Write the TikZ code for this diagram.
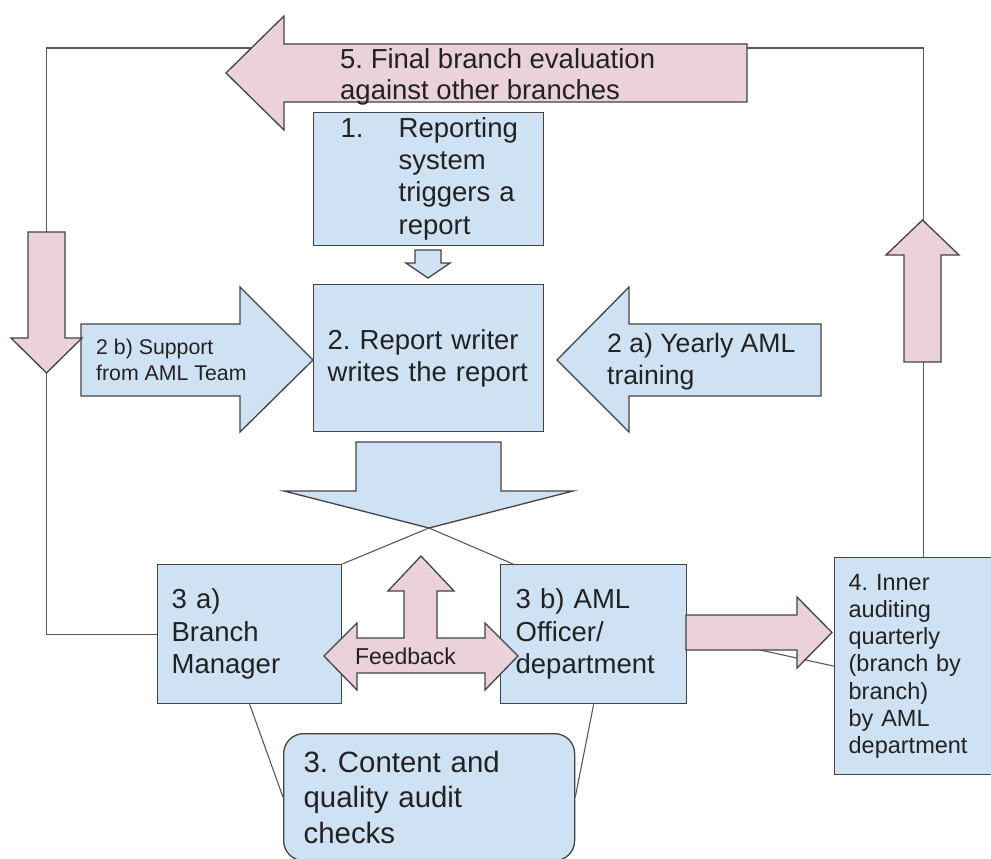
\documentclass[tikz,border=0pt]{standalone}
\usepackage{fontspec}
\setmainfont{Liberation Sans}
\usepackage{xcolor}
\usetikzlibrary{backgrounds}
\definecolor{boxblue}{HTML}{CFE2F3}
\definecolor{flowpink}{HTML}{EAD1DC}
\definecolor{edgegray}{HTML}{434343}
\definecolor{linegray}{HTML}{595959}
\definecolor{txtgray}{HTML}{222222}
\frenchspacing

\begin{document}
\begin{tikzpicture}[x=1pt, y=-1pt,
		stepbox/.style={draw=edgegray, fill=boxblue, line width=1.3pt, anchor=north west, align=left, text=txtgray, inner ysep=0pt, inner xsep=14pt, font=\fontsize{27.5}{32.3}\selectfont},
		bluearrow/.style={draw=edgegray, fill=boxblue, line width=1.3pt},
		pinkarrow/.style={draw=edgegray, fill=flowpink, line width=1.3pt},
		link/.style={draw=linegray, line width=1.1pt},
		arrowtext/.style={anchor=west, align=left, inner sep=0pt, text=txtgray}
	]
	\useasboundingbox (0,0) rectangle (991,859);
	\clip (0,0) rectangle (991,859);

	% Step 1
	\node[stepbox, minimum width=230pt, minimum height=133pt, text width=202pt] (report) at (313,112) {\begin{tabular}{@{\hspace{13pt}}p{58pt}@{}l@{}}1. & Reporting\\ & system\\ & triggers a\\ & report\end{tabular}};
	\draw[bluearrow] (415,250) -- (441,250) -- (441,263) -- (450,263) -- (428,278) -- (406,263) -- (415,263) -- cycle;

	% Step 2
	\node[stepbox, minimum width=230pt, minimum height=147pt, text width=202pt] (writer) at (313,284) {2. Report writer\\writes the report};

	% Step 2 a) and 2 b)
	\draw[bluearrow] (81,324) -- (240,324) -- (240,287) -- (313,360) -- (240,432) -- (240,396) -- (81,396) -- cycle;
	\node[arrowtext, font=\fontsize{21.3}{26}\selectfont] (support) at (96,360.3) {2 b) Support\\from AML Team};
	\draw[bluearrow] (821,324) -- (629,324) -- (629,287) -- (557,360) -- (629,432) -- (629,396) -- (821,396) -- cycle;
	\node[arrowtext, font=\fontsize{26.6}{32}\selectfont] (training) at (607,362) {2 a) Yearly AML\\training};

	% Split to step 3
	\draw[bluearrow] (356,442) -- (501,442) -- (501,491) -- (573,491) -- (429,528) -- (284,491) -- (356,491) -- cycle;
	\coordinate (split) at (429,528);

	% Step 3 a) and 3 b)
	\node[stepbox, minimum width=184pt, minimum height=139pt, text width=156pt] (mgr) at (157,564) {3 a)\\Branch\\Manager};
	\node[stepbox, inner xsep=15pt, minimum width=186pt, minimum height=139pt, text width=156pt] (officer) at (500,564) {3 b) AML\\Officer/\\department};

	% Feedback
	\draw[pinkarrow] (324,656) -- (357,623) -- (357,638) -- (404,638) -- (404,591) -- (388,591) -- (421,556) -- (454,591) -- (437,591) -- (437,638) -- (485,638) -- (485,623) -- (518,656) -- (485,690) -- (485,673) -- (357,673) -- (357,690) -- cycle;
	\node[font=\fontsize{23}{27}\selectfont, text=txtgray, inner sep=0pt] (feedback) at (405.5,656.6) {Feedback};

	% Step 3
	\node[stepbox, rounded corners=20pt, inner xsep=20pt, minimum width=291pt, minimum height=127pt, text width=251pt, font=\fontsize{29.4}{35.5}\selectfont] (audit) at (283,733) {3. Content and\\quality audit\\checks};

	% Step 4
	\node[stepbox, minimum width=177pt, minimum height=217pt, text width=149pt, font=\fontsize{23.5}{27.2}\selectfont] (inner) at (834,557) {4. Inner\\auditing\\quarterly\\(branch by\\branch)\\by AML\\department};
	\draw[pinkarrow] (686,615) -- (797,615) -- (797,597) -- (832,632.5) -- (797,668) -- (797,650) -- (686,650) -- cycle;
	\draw[pinkarrow] (904,362) -- (904,255) -- (886,255) -- (922.5,220) -- (959,255) -- (941,255) -- (941,362) -- cycle;

	% Step 5
	\draw[pinkarrow] (226,73) -- (284,16) -- (284,44) -- (747,44) -- (747,102) -- (284,102) -- (284,130) -- cycle;
	\node[arrowtext, font=\fontsize{27.5}{31.5}\selectfont] (evaluation) at (340,76.7) {5. Final branch evaluation\\against other branches};
	\draw[pinkarrow] (28,232) -- (65,232) -- (65,338) -- (82,338) -- (46.5,373) -- (11,338) -- (28,338) -- cycle;

	% Connectors
	\begin{pgfonlayer}{background}
		\coordinate (loopcorner) at (46.5,48);
		\draw[link] (inner.north) |- (loopcorner) |- (mgr.west);
		\draw[link] (split) -- (mgr.north east);
		\draw[link] (split) -- ([xshift=13pt]officer.north west);
		\draw[link] (mgr.south) -- (audit.west);
		\draw[link] (officer.south) -- (audit.east);
		\draw[link] (officer.east) -- (inner.west);
	\end{pgfonlayer}
\end{tikzpicture}
\end{document}
